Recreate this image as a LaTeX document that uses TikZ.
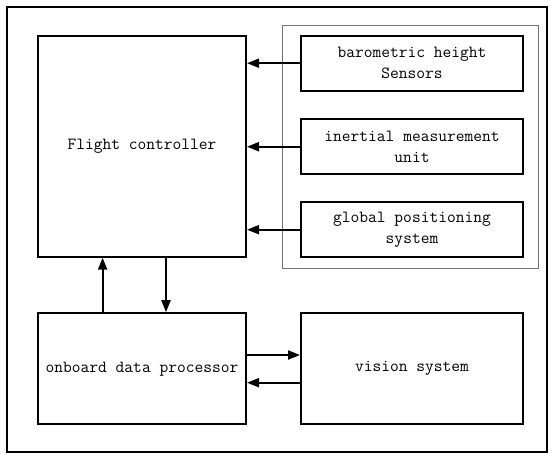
\documentclass[tikz,border=0pt]{standalone}
\usepackage{fontspec}
\usetikzlibrary{arrows.meta}
\begin{document}
\begin{tikzpicture}[x=1pt,y=-1pt,
  box/.style={draw=black,line width=2pt,rectangle,align=center,inner sep=0pt,font=\ttfamily\fontsize{17}{21}\selectfont},
  arr/.style={line width=2pt,-{Triangle[length=12pt,width=9pt]}}]
\useasboundingbox (0,0) rectangle (551,453);
\fill[white] (0,0) rectangle (551,453);
\node[draw=black,line width=1.5pt,minimum width=540pt,minimum height=445pt,inner sep=0pt] (frame) at (277,229.5) {};
\node[draw=black!55,line width=1pt,minimum width=256pt,minimum height=243pt,inner sep=0pt] (group) at (410,146.5) {};
\node[box,minimum width=208pt,minimum height=221pt] (fc) at (142,146.2) {Flight controller};
\node[box,minimum width=222pt,minimum height=55pt] (s1) at (412,63.2) {barometric height\\Sensors};
\node[box,minimum width=222pt,minimum height=55pt] (s2) at (412,146.7) {inertial measurement\\unit};
\node[box,minimum width=222pt,minimum height=55pt] (s3) at (412,229.7) {global positioning\\system};
\node[box,minimum width=208pt,minimum height=111pt] (ob) at (142,368.7) {onboard data processor};
\node[box,minimum width=222pt,minimum height=111pt] (vs) at (412,368.7) {vision system};
\draw[arr] (s1.west) -- (s1.west -| fc.east);
\draw[arr] (s2.west) -- (s2.west -| fc.east);
\draw[arr] (s3.west) -- (s3.west -| fc.east);
\draw[arr] ([xshift=-39.4pt]ob.north) -- ([xshift=-39.4pt]fc.south);
\draw[arr] ([xshift=24pt]fc.south) -- ([xshift=24pt]ob.north);
\draw[arr] ([yshift=13.7pt]ob.east) -- ([yshift=13.7pt]vs.west);
\draw[arr] ([yshift=-14pt]vs.west) -- ([yshift=-14pt]ob.east);
\end{tikzpicture}
\end{document}
